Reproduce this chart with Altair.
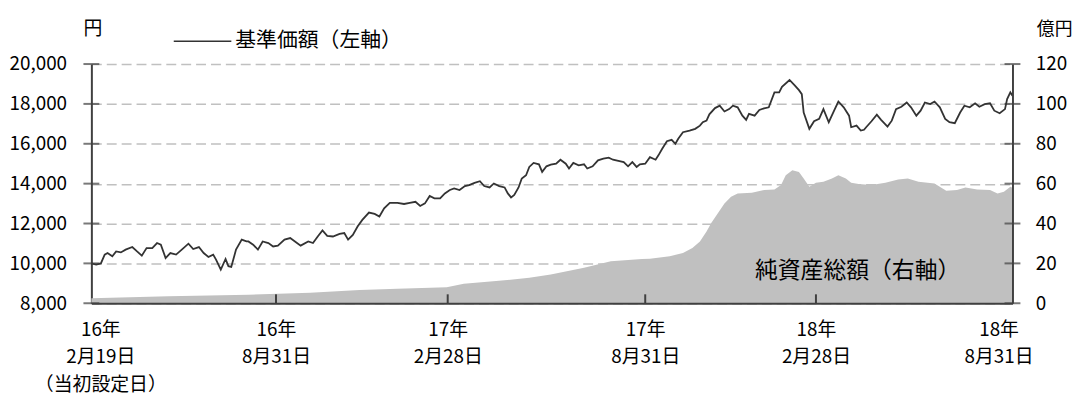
import json
from datetime import datetime, timezone
import altair as alt
import pandas as pd

FONT = "Noto Sans CJK JP"

# ---------------- data ----------------
nav_dates = [
    "2016-02-19", "2016-02-24", "2016-02-29", "2016-03-04", "2016-03-07", "2016-03-12", "2016-03-16",
    "2016-03-21", "2016-03-26", "2016-04-02", "2016-04-07", "2016-04-12", "2016-04-17", "2016-04-23",
    "2016-04-28", "2016-05-02", "2016-05-07", "2016-05-12", "2016-05-18", "2016-05-24", "2016-05-31",
    "2016-06-05", "2016-06-11", "2016-06-16", "2016-06-21", "2016-06-26", "2016-06-29", "2016-07-04",
    "2016-07-09", "2016-07-12", "2016-07-15", "2016-07-20", "2016-07-26", "2016-07-31", "2016-08-02",
    "2016-08-07", "2016-08-12", "2016-08-17", "2016-08-23", "2016-08-28", "2016-09-02", "2016-09-09",
    "2016-09-15", "2016-09-20", "2016-09-26", "2016-10-04", "2016-10-09", "2016-10-14", "2016-10-19",
    "2016-10-24", "2016-10-30", "2016-11-06", "2016-11-11", "2016-11-15", "2016-11-20", "2016-11-25",
    "2016-11-30", "2016-12-07", "2016-12-13", "2016-12-18", "2016-12-23", "2016-12-29", "2017-01-06",
    "2017-01-13", "2017-01-19", "2017-01-25", "2017-01-30", "2017-02-04", "2017-02-09", "2017-02-14",
    "2017-02-20", "2017-02-25", "2017-03-02", "2017-03-06", "2017-03-11", "2017-03-16", "2017-03-20",
    "2017-03-25", "2017-03-30", "2017-04-03", "2017-04-08", "2017-04-12", "2017-04-17", "2017-04-22",
    "2017-04-25", "2017-04-28", "2017-05-01", "2017-05-05", "2017-05-08", "2017-05-12", "2017-05-15",
    "2017-05-19", "2017-05-24", "2017-05-27", "2017-05-31", "2017-06-04", "2017-06-09", "2017-06-13",
    "2017-06-18", "2017-06-21", "2017-06-25", "2017-06-30", "2017-07-05", "2017-07-08", "2017-07-13",
    "2017-07-18", "2017-07-23", "2017-07-28", "2017-08-01", "2017-08-06", "2017-08-11", "2017-08-15",
    "2017-08-19", "2017-08-23", "2017-08-26", "2017-08-31", "2017-09-05", "2017-09-11", "2017-09-14",
    "2017-09-18", "2017-09-23", "2017-09-28", "2017-10-02", "2017-10-05", "2017-10-10", "2017-10-17",
    "2017-10-23", "2017-10-28", "2017-10-31", "2017-11-04", "2017-11-07", "2017-11-13", "2017-11-18",
    "2017-11-23", "2017-11-28", "2017-12-02", "2017-12-07", "2017-12-12", "2017-12-16", "2017-12-19",
    "2017-12-25", "2017-12-30", "2018-01-04", "2018-01-09", "2018-01-15", "2018-01-20", "2018-01-23",
    "2018-01-31", "2018-02-05", "2018-02-10", "2018-02-13", "2018-02-15", "2018-02-21", "2018-02-26",
    "2018-03-03", "2018-03-07", "2018-03-12", "2018-03-17", "2018-03-21", "2018-03-26", "2018-03-31",
    "2018-04-02", "2018-04-07", "2018-04-11", "2018-04-14", "2018-04-16", "2018-04-21", "2018-04-26",
    "2018-04-30", "2018-05-06", "2018-05-10", "2018-05-14", "2018-05-19", "2018-05-24", "2018-05-28",
    "2018-06-02", "2018-06-06", "2018-06-10", "2018-06-15", "2018-06-19", "2018-06-24", "2018-06-29",
    "2018-07-03", "2018-07-08", "2018-07-13", "2018-07-17", "2018-07-22", "2018-07-27", "2018-07-31",
    "2018-08-05", "2018-08-10", "2018-08-14", "2018-08-19", "2018-08-24", "2018-08-26", "2018-08-29",
    "2018-08-31",
]
nav_values = [
    10000, 9940, 10000, 10440, 10520, 10355, 10600,
    10550, 10690, 10820, 10600, 10390, 10770, 10770,
    11020, 10940, 10270, 10520, 10440, 10690, 10990,
    10720, 10820, 10520, 10320, 10440, 10190, 9690,
    10220, 9860, 9820, 10690, 11190, 11100, 11100,
    10940, 10690, 11100, 11020, 10850, 10890, 11190,
    11270, 11100, 10890, 11100, 11020, 11350, 11650,
    11380, 11350, 11480, 11520, 11190, 11430, 11850,
    12180, 12550, 12480, 12350, 12760, 13040, 13040,
    12980, 13040, 13090, 12880, 13010, 13380, 13260,
    13260, 13510, 13680, 13760, 13680, 13880, 13930,
    14040, 14120, 13880, 13810, 14010, 13880, 13810,
    13510, 13310, 13430, 13810, 14260, 14420, 14840,
    15040, 14970, 14590, 14870, 14950, 15000, 15200,
    15000, 14760, 15040, 14920, 14970, 14760, 14870,
    15170, 15250, 15300, 15200, 15140, 15080, 14870,
    15080, 14840, 14970, 15000, 15330, 15200, 15420,
    15750, 16130, 16200, 16000, 16250, 16580, 16660,
    16750, 16910, 17080, 17160, 17480, 17790, 17910,
    17620, 17740, 17910, 17830, 17410, 17200, 17500,
    17410, 17700, 17780, 17830, 18580, 18580, 18860,
    19200, 18950, 18690, 18490, 17570, 16750, 17130,
    17250, 17740, 17080, 17660, 18120, 17830, 17410,
    16830, 16910, 16660, 16700, 16830, 17130, 17460,
    17200, 16860, 17160, 17740, 17860, 18070, 17830,
    17410, 17660, 18070, 17990, 18120, 17830, 17250,
    17080, 17030, 17570, 17910, 17830, 18030, 17860,
    17990, 18030, 17660, 17530, 17740, 18240, 18580,
    18410,
]

aum_dates = [
    "2016-02-19", "2016-05-10", "2016-08-02", "2016-10-06", "2016-11-27", "2017-01-06", "2017-02-27",
    "2017-03-15", "2017-04-14", "2017-05-15", "2017-06-04", "2017-06-27", "2017-07-05", "2017-07-30",
    "2017-08-28", "2017-09-05", "2017-09-26", "2017-10-10", "2017-10-20", "2017-10-28", "2017-11-04",
    "2017-11-09", "2017-11-16", "2017-11-23", "2017-11-30", "2017-12-07", "2017-12-22", "2018-01-04",
    "2018-01-15", "2018-01-22", "2018-01-27", "2018-02-03", "2018-02-10", "2018-02-15", "2018-02-21",
    "2018-02-28", "2018-03-07", "2018-03-15", "2018-03-21", "2018-03-28", "2018-04-02", "2018-04-09",
    "2018-04-21", "2018-05-04", "2018-05-16", "2018-05-25", "2018-06-04", "2018-06-19", "2018-06-30",
    "2018-07-10", "2018-07-18", "2018-07-29", "2018-08-10", "2018-08-17", "2018-08-23", "2018-08-29",
    "2018-08-31",
]
aum_values = [
    2.5, 3.5, 4.3, 5.3, 6.6, 7.3, 8.0,
    9.8, 11.1, 12.8, 14.4, 16.9, 17.8, 21.1,
    22.2, 22.3, 23.6, 25.2, 27.7, 31.0, 36.0,
    40.2, 45.2, 50.1, 53.4, 55.1, 55.4, 56.8,
    57.1, 59.3, 64.2, 66.7, 65.9, 62.6, 58.4,
    60.4, 60.9, 62.6, 64.2, 62.6, 60.4, 59.8,
    59.3, 60.4, 62.1, 62.6, 60.9, 60.1, 56.4,
    56.8, 58.1, 57.1, 56.8, 55.1, 55.9, 58.4,
    58.0,
]

tick_dates = ["2016-02-19", "2016-08-31", "2017-02-28", "2017-08-31", "2018-02-28", "2018-08-31"]
tick_labels = [
    ["16年", "2月19日", "（当初設定日）"],
    ["16年", "8月31日"],
    ["17年", "2月28日"],
    ["17年", "8月31日"],
    ["18年", "2月28日"],
    ["18年", "8月31日"],
]
left_ticks = [8000, 10000, 12000, 14000, 16000, 18000, 20000]
right_ticks = [0, 20, 40, 60, 80, 100, 120]

nav_name = "基準価額（左軸）"
aum_name = "純資産総額（右軸）"
aum_label_date = "2018-04-08"
aum_label_value = 16

# ---------------- layout ----------------
W, H = 928, 241
tick_px = [0, 186, 359, 558, 730, 928]   # piecewise time-axis layout (business-day spacing)
INK = "#404040"


def ms(s):
    """Date string -> UTC epoch milliseconds (the time scale's own units)."""
    return int(datetime.strptime(s, "%Y-%m-%d").replace(tzinfo=timezone.utc).timestamp() * 1000)


nav_df = pd.DataFrame({"date": nav_dates, "nav": nav_values, "series": nav_name})
aum_df = pd.DataFrame({"date": aum_dates, "aum": aum_values})
xt_df = pd.DataFrame({"date": tick_dates[1:-1]})
lt_df = pd.DataFrame({"v": left_ticks})
rt_df = pd.DataFrame({"v": right_ticks})
txt_df = pd.DataFrame({"label": [aum_name], "date": [aum_label_date], "v": [aum_label_value]})

TCALC = "time(toDate(datum.date + 'T00:00:00Z'))"

x_scale = alt.Scale(type="linear", domain=[ms(s) for s in tick_dates], range=tick_px,
                    nice=False, zero=False, padding=0)

fmt = "utcFormat(datum.value, '%Y-%m-%d')"
label_expr = ""
for d, lines in zip(tick_dates, tick_labels):
    label_expr += f"{fmt} == '{d}' ? {json.dumps(lines, ensure_ascii=False)} : "
label_expr += "''"
offset_expr = (f"{fmt} == '{tick_dates[0]}' ? 9 : ({fmt} == '{tick_dates[-1]}' ? -14 : 0)")

x_axis = alt.Axis(
    values=[ms(s) for s in tick_dates], labelExpr=label_expr,
    labelOffset=alt.ExprRef(expr=offset_expr),
    title=None, ticks=False, tickSize=0, domainColor=INK, domainWidth=2,
    labelFont=FONT, labelFontSize=19, labelColor="black", labelLineHeight=28,
    labelPadding=17, labelBaseline="top", labelAlign="center",
    labelOverlap=False, labelFlush=False, labelBound=False, grid=False, zindex=1,
)

left_scale = alt.Scale(domain=[8000, 20000], nice=False, zero=False, padding=0)
right_scale = alt.Scale(domain=[0, 120], nice=False, zero=True, padding=0)

left_axis = alt.Axis(
    orient="left", values=left_ticks, format=",d", title="円", titleAngle=0,
    titleX=1, titleY=-26, titleAlign="center", titleBaseline="bottom",
    titleFont=FONT, titleFontSize=19, titleFontWeight="normal", titleColor="black",
    labelFont=FONT, labelFontSize=19, labelColor="black", labelPadding=25,
    ticks=False, tickSize=0, domainColor=INK, domainWidth=2,
    grid=True, gridColor="#c0c0c0", gridDash=[10, 5], gridWidth=1.5,
)
right_axis = alt.Axis(
    orient="right", values=right_ticks, title="億円", titleAngle=0,
    titleX=42, titleY=-26, titleAlign="center", titleBaseline="bottom",
    titleFont=FONT, titleFontSize=18, titleFontWeight="normal", titleColor="black",
    labelFont=FONT, labelFontSize=19, labelColor="black", labelPadding=23,
    ticks=False, tickSize=0, domainColor=INK, domainWidth=2, grid=False, zindex=1,
)

legend = alt.Legend(
    orient="none", legendX=82, legendY=-53, title=None, symbolType="stroke",
    symbolSize=3364, symbolStrokeWidth=1.6, labelFont=FONT, labelFontSize=21,
    labelColor="black", labelOffset=3, labelLimit=0,
)


def xf():
    return alt.X("t:Q", scale=x_scale, axis=x_axis)


def y_left(field):
    return alt.Y(field, scale=left_scale, axis=left_axis)


def y_right(field):
    return alt.Y(field, scale=right_scale, axis=right_axis)


area = alt.Chart(aum_df).transform_calculate(t=TCALC).mark_area(color="#c0c0c0").encode(
    x=xf(), y=y_right("aum:Q")
)
area_text = alt.Chart(txt_df).transform_calculate(t=TCALC).mark_text(
    font=FONT, fontSize=23, color="black"
).encode(x=xf(), y=y_right("v:Q"), text="label:N")
rticks = alt.Chart(rt_df).mark_tick(orient="horizontal", size=16, thickness=2, color=INK).encode(
    x=alt.value(W), y=y_right("v:Q")
)
xticks = alt.Chart(xt_df).transform_calculate(t=TCALC).mark_rule(color=INK, strokeWidth=2).encode(
    x=xf(), y=alt.value(H - 9), y2=alt.value(H)
)

line = alt.Chart(nav_df).transform_calculate(t=TCALC).mark_line(strokeWidth=1.8).encode(
    x=xf(),
    y=y_left("nav:Q"),
    color=alt.Color("series:N", scale=alt.Scale(range=["#333333"]), legend=legend),
)
lticks = alt.Chart(lt_df).mark_tick(orient="horizontal", size=16, thickness=2, color=INK).encode(
    x=alt.value(0), y=y_left("v:Q")
)

right_group = alt.layer(area, area_text, rticks, xticks)
left_group = alt.layer(line, lticks)

chart = (
    alt.layer(right_group, left_group)
    .resolve_scale(y="independent")
    .properties(
        width=W, height=H,
        padding={"left": 84, "top": 55, "right": 63, "bottom": 94},
        autosize=alt.AutoSizeParams(type="none"),
    )
    .configure(font=FONT)
    .configure_view(stroke=None)
)

chart.save("out.html", embed_options={"renderer": "svg", "actions": False})
